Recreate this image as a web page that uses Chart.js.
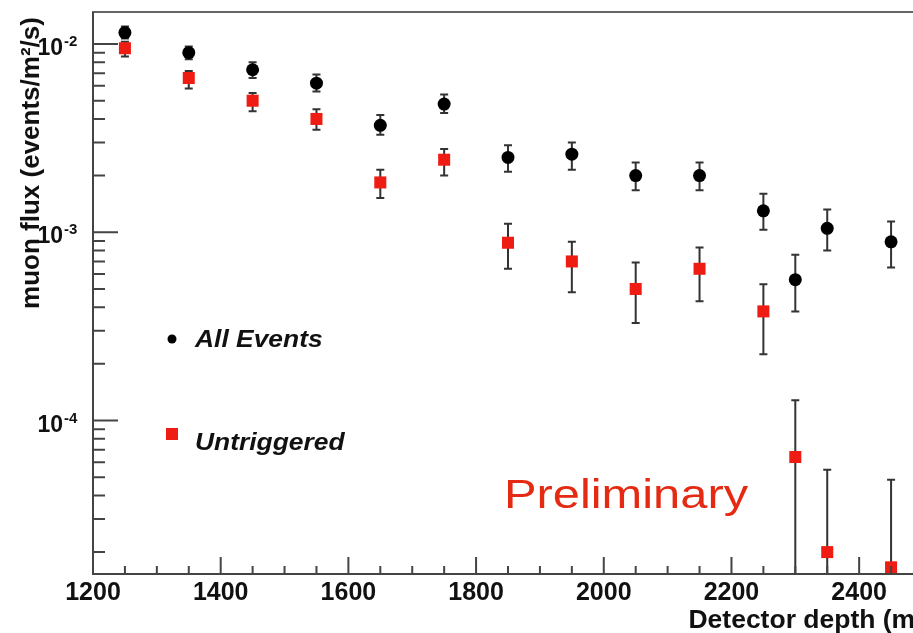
<!DOCTYPE html>
<html>
<head>
<meta charset="utf-8">
<script src="https://cdn.jsdelivr.net/npm/chart.js@4.4.1/dist/chart.umd.min.js"></script>
<style>
  html, body { margin: 0; padding: 0; background: #fff; overflow: hidden; }
  #wrap { width: 940px; height: 633px; }
</style>
</head>
<body>
<div id="wrap"><canvas id="flux" width="940" height="633"></canvas></div>
<script>
// muon flux vs detector depth
var depth = [1250, 1350, 1450, 1550, 1650, 1750, 1850, 1950, 2050, 2150, 2250, 2300, 2350, 2450];

var allFlux = [0.0115, 0.0090, 0.0073, 0.0062, 0.0037, 0.0048, 0.0025, 0.0026, 0.0020, 0.0020, 0.0013, 0.00056, 0.00105, 0.00089];
var allHi = [0.0124, 0.0097, 0.0080, 0.0069, 0.0042, 0.0054, 0.0029, 0.0030, 0.00235, 0.00235, 0.0016, 0.00076, 0.00132, 0.00114];
var allLo = [0.0107, 0.0083, 0.0066, 0.0056, 0.0033, 0.0043, 0.0021, 0.00215, 0.00167, 0.00167, 0.00103, 0.00038, 0.00080, 0.00065];

var untrigFlux = [0.0095, 0.0066, 0.0050, 0.0040, 0.00184, 0.00243, 0.00088, 0.00070, 0.00050, 0.00064, 0.00038, 0.000064, 0.0000200, 0.0000166];
var untrigHi = [0.0103, 0.0072, 0.0055, 0.0045, 0.00215, 0.00277, 0.00111, 0.00089, 0.00069, 0.00083, 0.00053, 0.000128, 0.0000547, 0.0000484];
var untrigLo = [0.0086, 0.0058, 0.0044, 0.0035, 0.00152, 0.00200, 0.00064, 0.00048, 0.00033, 0.00043, 0.000225, 0.000001, 0.000001, 0.000001];

var xTickLabels = [1200, 1400, 1600, 1800, 2000, 2200, 2400];
var yDecades = [-2, -3, -4];

var X_MIN = 1200, X_MAX = 2500;
var Y_MIN = 1.53e-5, Y_MAX = 0.0148;

var FONT = "'Liberation Sans', Arial, Helvetica, sans-serif";
var AXIS = "#444";
var RED = "#ee1c12";

function pts(ys) {
  return depth.map(function (d, i) {
    return { x: d, y: ys[i] };
  });
}

// ROOT-like frame, inward ticks, labels, legend and the "Preliminary" tag
var rootStyle = {
  id: "rootStyle",
  beforeDatasetsDraw: function (chart) {
    var ctx = chart.ctx;
    var xs = chart.scales.x, ys = chart.scales.y;
    var area = chart.chartArea;
    ctx.save();
    ctx.beginPath();
    ctx.rect(area.left, area.top, area.right - area.left, area.bottom - area.top);
    ctx.clip();
    ctx.strokeStyle = "#333";
    ctx.lineWidth = 2;
    [[allHi, allLo], [untrigHi, untrigLo]].forEach(function (pair) {
      depth.forEach(function (d, i) {
        var px = xs.getPixelForValue(d);
        var top = ys.getPixelForValue(pair[0][i]);
        var bot = ys.getPixelForValue(Math.max(pair[1][i], Y_MIN * 0.5));
        ctx.beginPath();
        ctx.moveTo(px, top);
        ctx.lineTo(px, bot);
        ctx.moveTo(px - 4, top);
        ctx.lineTo(px + 4, top);
        if (pair[1][i] > Y_MIN) {
          ctx.moveTo(px - 4, bot);
          ctx.lineTo(px + 4, bot);
        }
        ctx.stroke();
      });
    });
    ctx.restore();
  },
  afterDraw: function (chart) {
    var ctx = chart.ctx;
    var xs = chart.scales.x, ys = chart.scales.y;
    var area = chart.chartArea;
    ctx.save();

    // frame
    ctx.strokeStyle = "#666";
    ctx.lineWidth = 2;
    ctx.strokeRect(area.left, area.top, area.right - area.left, area.bottom - area.top);
    ctx.strokeStyle = AXIS;
    ctx.beginPath();
    ctx.moveTo(area.left, area.top);
    ctx.lineTo(area.left, area.bottom);
    ctx.lineTo(area.right, area.bottom);
    ctx.stroke();

    // x ticks
    ctx.beginPath();
    for (var v = X_MIN; v <= X_MAX; v += 50) {
      var px = xs.getPixelForValue(v);
      var len = v % 200 === 0 ? 17 : 8;
      ctx.moveTo(px, area.bottom);
      ctx.lineTo(px, area.bottom - len);
    }
    // y ticks
    for (var e = -5; e <= -1; e++) {
      for (var m = 1; m <= 9; m++) {
        var val = m * Math.pow(10, e);
        if (val < Y_MIN || val > Y_MAX) continue;
        var py = ys.getPixelForValue(val);
        ctx.moveTo(area.left, py);
        ctx.lineTo(area.left + (m === 1 ? 25 : 12), py);
      }
    }
    ctx.stroke();

    // x tick labels
    ctx.fillStyle = "#111";
    ctx.font = "bold 25px " + FONT;
    ctx.textAlign = "center";
    ctx.textBaseline = "alphabetic";
    xTickLabels.forEach(function (t) {
      ctx.fillText(String(t), xs.getPixelForValue(t), 600);
    });

    // y tick labels 10^n
    yDecades.forEach(function (n) {
      var py = ys.getPixelForValue(Math.pow(10, n));
      ctx.font = "bold 23px " + FONT;
      ctx.textAlign = "right";
      ctx.fillText("10", 63, py + 11);
      ctx.font = "bold 15px " + FONT;
      ctx.textAlign = "left";
      ctx.fillText(String(n), 64, py + 2);
    });

    // axis titles
    ctx.font = "bold 26.5px " + FONT;
    ctx.textAlign = "right";
    ctx.fillText("Detector depth (m)", 924, 628);

    ctx.save();
    ctx.translate(39, 163);
    ctx.rotate(-Math.PI / 2);
    ctx.textAlign = "center";
    ctx.font = "bold 26px " + FONT;
    ctx.fillText("muon flux (events/m\u00b2/s)", 0, 0);
    ctx.restore();

    // legend
    ctx.fillStyle = "#000";
    ctx.beginPath();
    ctx.arc(172, 339, 4.5, 0, Math.PI * 2);
    ctx.fill();
    ctx.fillStyle = RED;
    ctx.fillRect(166, 428, 12, 12);

    ctx.fillStyle = "#111";
    ctx.font = "italic bold 24px " + FONT;
    ctx.textAlign = "left";
    [["All Events", 347], ["Untriggered", 450]].forEach(function (l) {
      ctx.save();
      ctx.translate(195, l[1]);
      ctx.scale(1.1, 1);
      ctx.fillText(l[0], 0, 0);
      ctx.restore();
    });

    // Preliminary
    ctx.fillStyle = "#e42a12";
    ctx.font = "40px " + FONT;
    ctx.save();
    ctx.translate(504, 508);
    ctx.scale(1.22, 1);
    ctx.fillText("Preliminary", 0, 0);
    ctx.restore();

    ctx.restore();
  }
};

new Chart(document.getElementById("flux"), {
  type: "scatter",
  data: {
    datasets: [
      {
        label: "All Events",
        data: pts(allFlux),
        pointStyle: "circle",
        pointRadius: 6.5,
        pointBackgroundColor: "#000",
        pointBorderWidth: 0,
      },
      {
        label: "Untriggered",
        data: pts(untrigFlux),
        pointStyle: "rect",
        pointRadius: 8.5,
        pointBackgroundColor: RED,
        pointBorderWidth: 0,
      },
    ],
  },
  options: {
    responsive: false,
    animation: false,
    events: [],
    layout: { padding: { left: 93, top: 12, right: 17, bottom: 59 } },
    plugins: { legend: { display: false }, tooltip: { enabled: false } },
    scales: {
      x: { type: "linear", display: false, min: X_MIN, max: X_MAX },
      y: { type: "logarithmic", display: false, min: Y_MIN, max: Y_MAX },
    },
  },
  plugins: [rootStyle],
});
</script>
</body>
</html>
